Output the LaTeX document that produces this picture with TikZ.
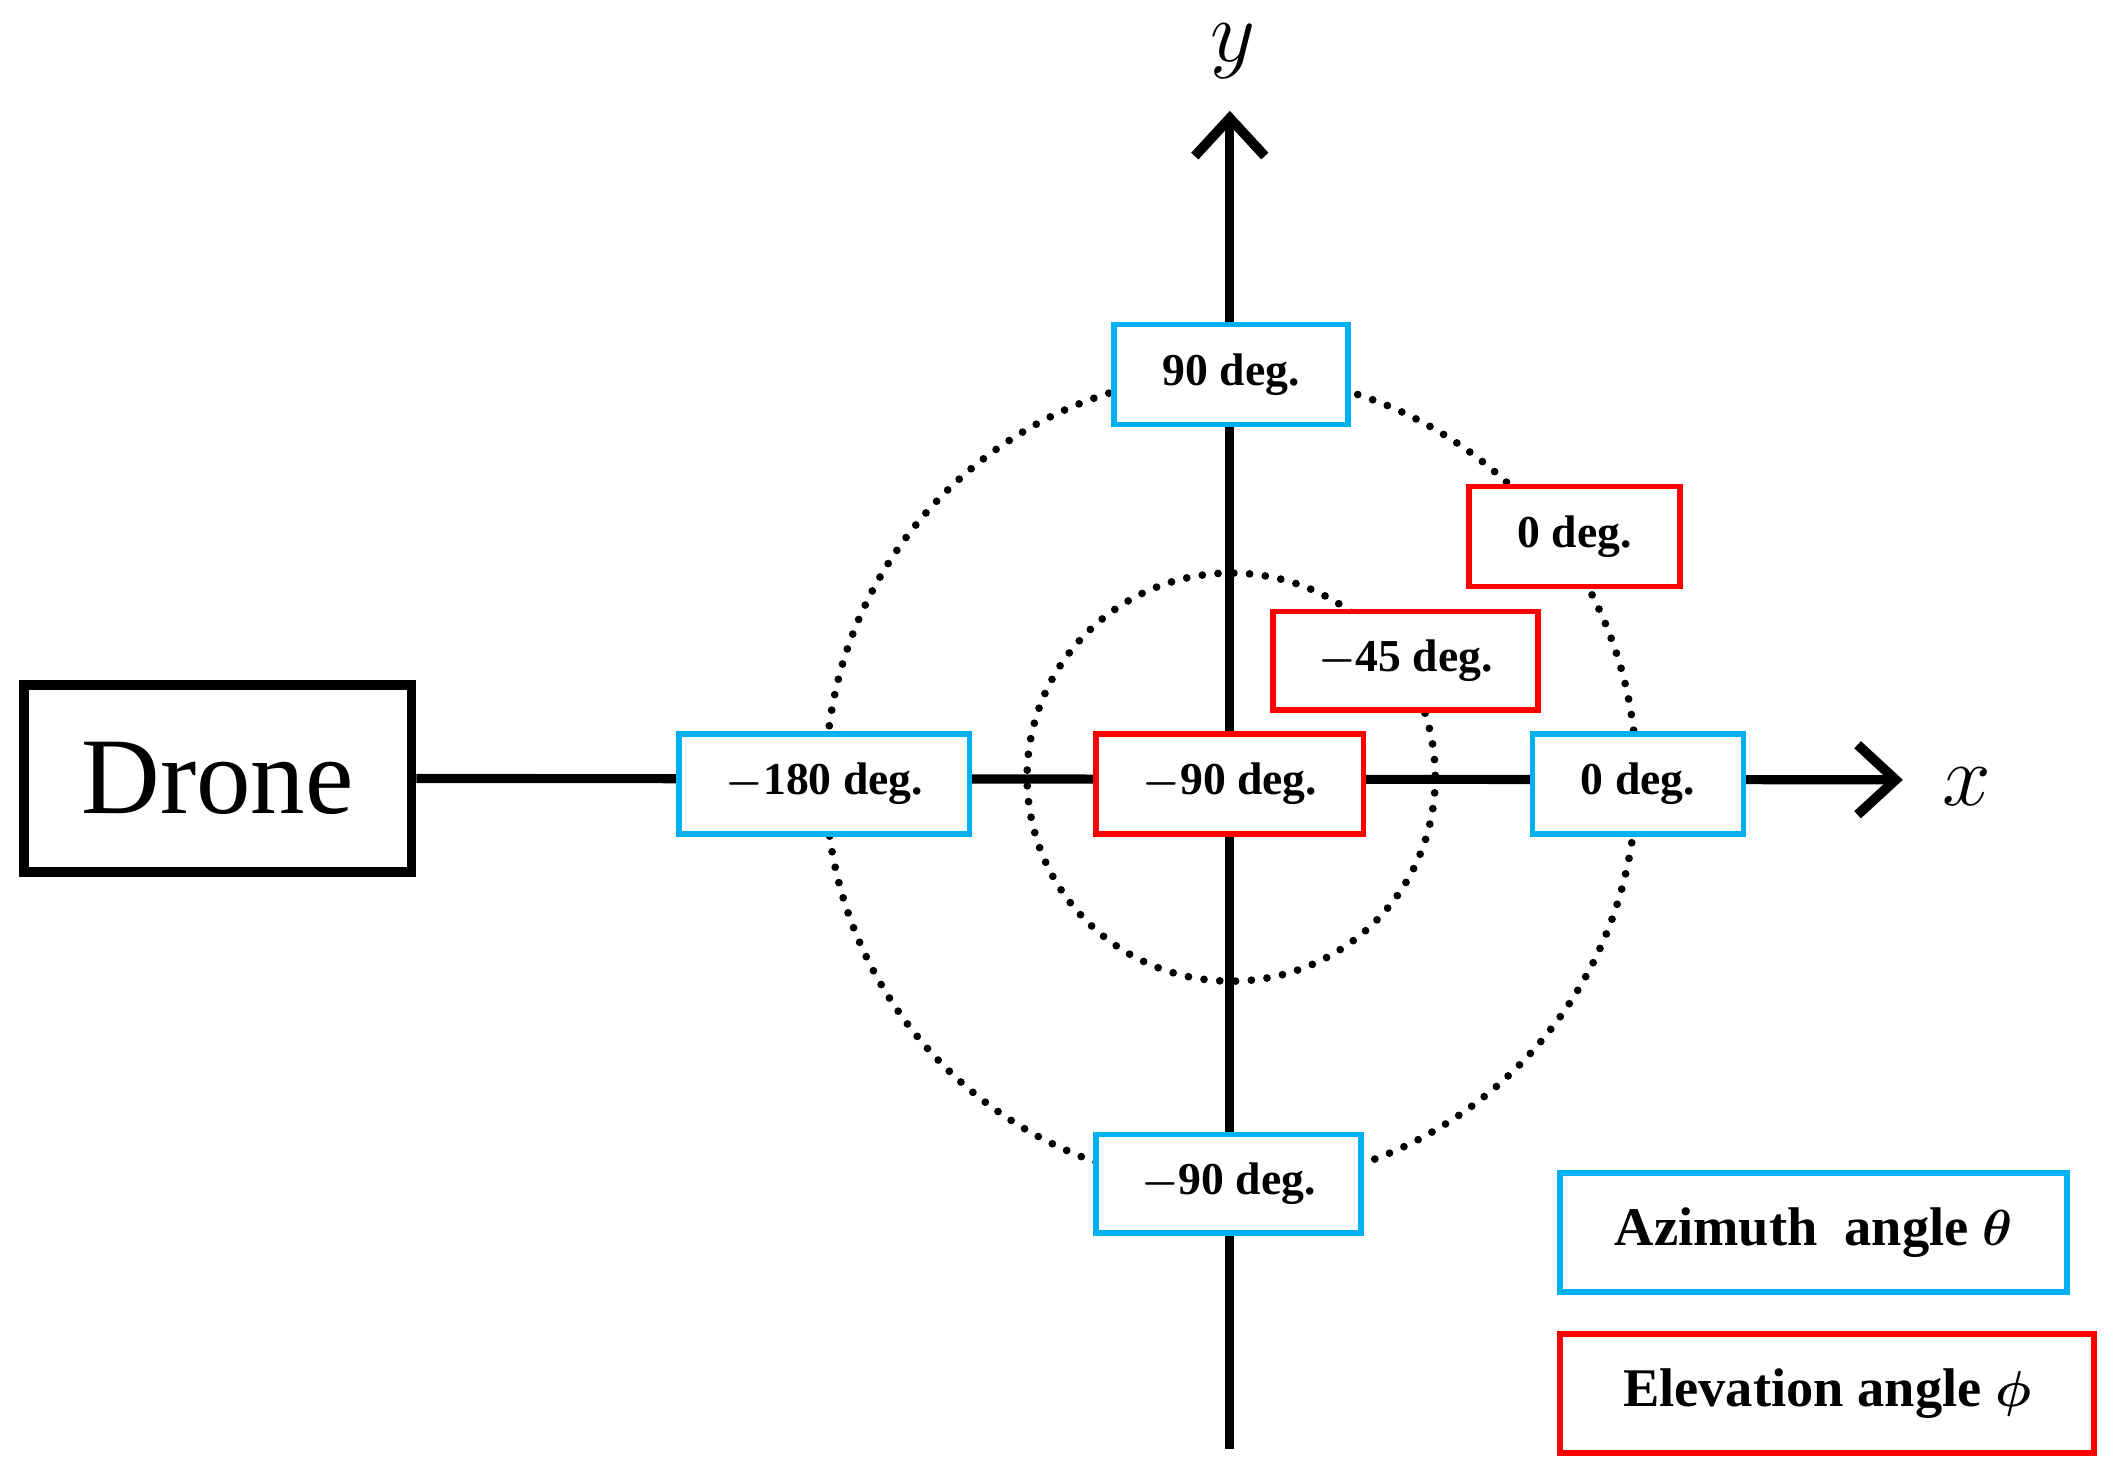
\documentclass[tikz,border=0pt]{standalone}
\usepackage{amsmath}
\usepackage{fontspec}
\setmainfont{Liberation Serif}
\usetikzlibrary{arrows.meta}
\definecolor{azblue}{RGB}{0,176,240}
\definecolor{elred}{RGB}{255,0,0}
\begin{document}
\begin{tikzpicture}[x=0.013514cm,y=-0.013514cm,>/.tip={Straight Barb[length=3.8mm,width=7mm,line width=2.8pt]},
    box/.style={draw,line width=1.6pt,fill=white,inner sep=0pt,font=\fontsize{13}{15}\selectfont\bfseries\boldmath},
    azim/.style={box,draw=azblue},
    elev/.style={box,draw=elred},
    ring/.style={line width=2.2pt,dash pattern=on 0pt off 4.5pt,line cap=round}]
    \useasboundingbox (0,0) rectangle (1565,1088);
    % The rings
    \draw[ring] (911,577) circle (300);
    \draw[ring] (911,575) circle (151);
    % The axes
    \node[draw,line width=2.8pt,minimum width=287*0.013514cm,minimum height=138*0.013514cm,
      font=\fontsize{31}{33}\selectfont] (drone) at (161,576) {Drone};
    \coordinate (xtip) at (1408,577);
    \coordinate (ytip) at (910,82);
    \coordinate (ybot) at (910,1072);
    \draw[line width=2.6pt,->] (drone.east) -- (xtip);
    \draw[line width=2.6pt,->] (ybot) -- (ytip);
    \node[font=\fontsize{26}{28}\selectfont] (xlab) at (1455,582) {$x$};
    \node[font=\fontsize{26}{28}\selectfont] (ylab) at (912,38) {$y$};
    % Azimuth boxes
    \node[azim,minimum width=173*0.013514cm,minimum height=74*0.013514cm] (az90) at (911,277) {90 deg.};
    \node[azim,minimum width=215*0.013514cm,minimum height=74*0.013514cm] (az180) at (610,580) {$-$180 deg.};
    \node[azim,minimum width=156*0.013514cm,minimum height=74*0.013514cm] (az0) at (1212,580) {0 deg.};
    \node[azim,minimum width=196*0.013514cm,minimum height=73*0.013514cm] (azm90) at (909,876) {$-$90 deg.};
    % Elevation boxes
    \node[elev,minimum width=156*0.013514cm,minimum height=74*0.013514cm] (el0) at (1165,397) {0 deg.};
    \node[elev,minimum width=196*0.013514cm,minimum height=73*0.013514cm] (el45) at (1040,489) {$-$45 deg.};
    \node[elev,minimum width=198*0.013514cm,minimum height=74*0.013514cm] (el90) at (910,580) {$-$90 deg.};
    % Legend
    \node[azim,font=\fontsize{15.5}{17}\selectfont\bfseries\boldmath,minimum width=375*0.013514cm,minimum height=88*0.013514cm] (legaz) at (1342,912) {Azimuth\ \ angle $\theta$};
    \node[elev,font=\fontsize{15.5}{17}\selectfont\bfseries\boldmath,minimum width=395*0.013514cm,minimum height=88*0.013514cm] (legel) at (1352,1031) {Elevation angle $\phi$};
\end{tikzpicture}
\end{document}
